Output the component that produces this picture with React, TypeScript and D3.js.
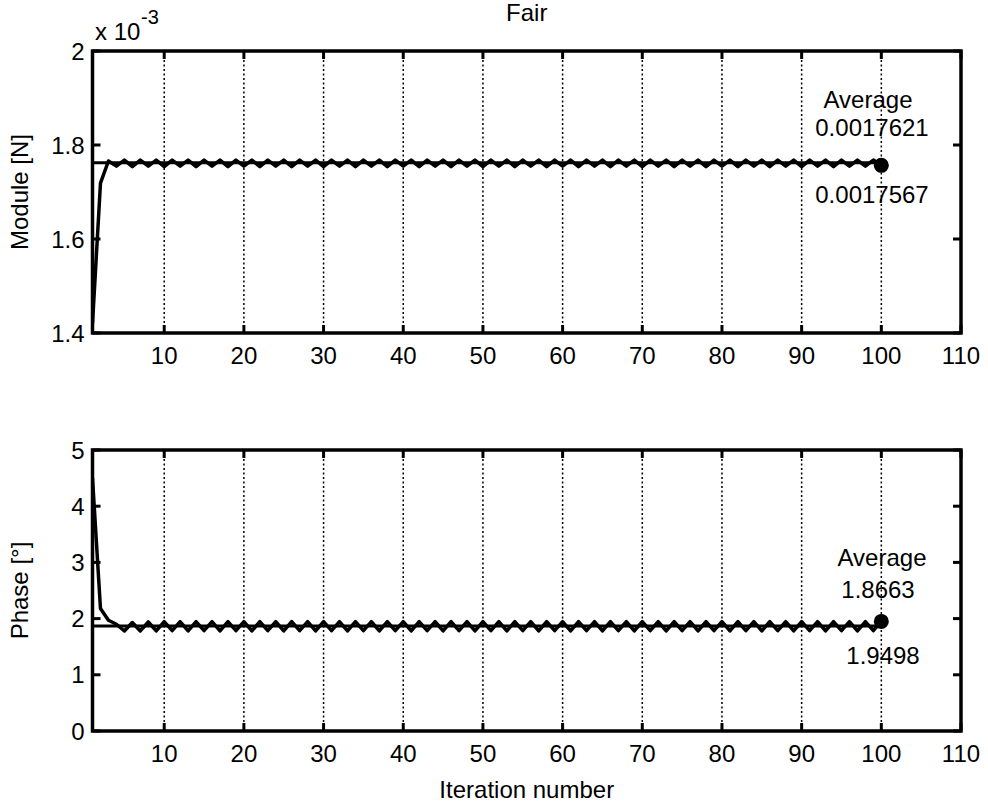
import React from "react";
import * as d3 from "d3";

const iterations: number[] = d3.range(1, 101);
// Module values, in units of 1e-3 N
const moduleVals: number[] = [
  1.420, 1.719, 1.766, 1.755, 1.768, 1.754, 1.768, 1.755, 1.768, 1.754,
  1.768, 1.755, 1.768, 1.754, 1.768, 1.755, 1.768, 1.754, 1.768, 1.755,
  1.768, 1.754, 1.768, 1.755, 1.768, 1.754, 1.768, 1.755, 1.768, 1.754,
  1.768, 1.755, 1.768, 1.754, 1.768, 1.755, 1.768, 1.754, 1.768, 1.755,
  1.768, 1.754, 1.768, 1.755, 1.768, 1.754, 1.768, 1.755, 1.768, 1.754,
  1.768, 1.755, 1.768, 1.754, 1.768, 1.755, 1.768, 1.754, 1.768, 1.755,
  1.768, 1.754, 1.768, 1.755, 1.768, 1.754, 1.768, 1.755, 1.768, 1.754,
  1.768, 1.755, 1.768, 1.754, 1.768, 1.755, 1.768, 1.754, 1.768, 1.755,
  1.768, 1.754, 1.768, 1.755, 1.768, 1.754, 1.768, 1.755, 1.768, 1.754,
  1.768, 1.755, 1.768, 1.754, 1.768, 1.755, 1.768, 1.755, 1.768, 1.7567,
];
// Phase values, degrees
const phaseVals: number[] = [
  4.50, 2.18, 1.97, 1.90, 1.78, 1.93, 1.78, 1.94, 1.78, 1.945,
  1.785, 1.945, 1.78, 1.945, 1.785, 1.945, 1.78, 1.945, 1.785, 1.945,
  1.78, 1.945, 1.785, 1.945, 1.78, 1.945, 1.785, 1.945, 1.78, 1.945,
  1.785, 1.945, 1.78, 1.945, 1.785, 1.945, 1.78, 1.945, 1.785, 1.945,
  1.78, 1.945, 1.785, 1.945, 1.78, 1.945, 1.785, 1.945, 1.78, 1.945,
  1.785, 1.945, 1.78, 1.945, 1.785, 1.945, 1.78, 1.945, 1.785, 1.945,
  1.78, 1.945, 1.785, 1.945, 1.78, 1.945, 1.785, 1.945, 1.78, 1.945,
  1.785, 1.945, 1.78, 1.945, 1.785, 1.945, 1.78, 1.945, 1.785, 1.945,
  1.78, 1.945, 1.785, 1.945, 1.78, 1.945, 1.785, 1.945, 1.78, 1.945,
  1.785, 1.945, 1.78, 1.945, 1.785, 1.945, 1.78, 1.945, 1.785, 1.9498,
];
const moduleAverage = 1.7621;
const phaseAverage = 1.8663;
const moduleTexts: string[] = ["Average", "0.0017621", "0.0017567"];
const phaseTexts: string[] = ["Average", "1.8663", "1.9498"];

const xTicks: number[] = [10, 20, 30, 40, 50, 60, 70, 80, 90, 100, 110];
const gridTicks: number[] = [10, 20, 30, 40, 50, 60, 70, 80, 90, 100];
const moduleTicks: number[] = [1.4, 1.6, 1.8, 2];
const moduleTickLabels: string[] = ["1.4", "1.6", "1.8", "2"];
const phaseTicks: number[] = [0, 1, 2, 3, 4, 5];
const phaseTickLabels: string[] = ["0", "1", "2", "3", "4", "5"];

const FONT = "'Liberation Sans', Arial, sans-serif";
const FS = 24;

const L = 92.5, R = 961;
const x = d3.scaleLinear().domain([1, 110]).range([L, R]);

type PanelProps = {
  y: d3.ScaleLinear<number, number>;
  vals: number[];
  avg: number;
  yTicks: number[];
  yLabels: string[];
  ylabel: string;
  texts: string[];
  textX: number[];
  textY: number[];
  clipId: string;
};

function Panel({ y, vals, avg, yTicks, yLabels, ylabel, texts, textX, textY, clipId }: PanelProps) {
  const [y0, y1] = y.range();
  const top = Math.min(y0, y1);
  const bottom = Math.max(y0, y1);
  const line = d3.line<number>().x((_, i) => x(iterations[i])).y((d) => y(d));
  const tl = 8;
  const lastX = x(iterations[iterations.length - 1]);
  const lastY = y(vals[vals.length - 1]);
  return (
    <g>
      <defs>
        <clipPath id={clipId}>
          <rect x={L} y={top} width={R - L} height={bottom - top} />
        </clipPath>
      </defs>
      {gridTicks.map((t) => (
        <line key={"g" + t} x1={x(t)} x2={x(t)} y1={top} y2={bottom} stroke="#000" strokeWidth={1.5} strokeDasharray="2 2.5" />
      ))}
      <g clipPath={`url(#${clipId})`}>
        <line x1={x(1)} x2={x(100)} y1={y(avg)} y2={y(avg)} stroke="#000" strokeWidth={3} />
        <path d={line(vals) || ""} fill="none" stroke="#000" strokeWidth={3.5} strokeLinejoin="round" />
      </g>
      <circle cx={lastX} cy={lastY} r={7.5} fill="#000" />
      {xTicks.map((t) => (
        <g key={"xt" + t}>
          <line x1={x(t)} x2={x(t)} y1={bottom} y2={bottom - tl} stroke="#000" strokeWidth={3} />
          <line x1={x(t)} x2={x(t)} y1={top} y2={top + tl} stroke="#000" strokeWidth={3} />
        </g>
      ))}
      {yTicks.map((t) => (
        <g key={"yt" + t}>
          <line x1={L} x2={L + tl} y1={y(t)} y2={y(t)} stroke="#000" strokeWidth={3} />
          <line x1={R} x2={R - tl} y1={y(t)} y2={y(t)} stroke="#000" strokeWidth={3} />
        </g>
      ))}
      <rect x={L} y={top} width={R - L} height={bottom - top} fill="none" stroke="#000" strokeWidth={3.5} />
      {xTicks.map((t) => (
        <text key={"xl" + t} x={x(t)} y={bottom + 31} textAnchor="middle" fontSize={FS} fontFamily={FONT}>{t}</text>
      ))}
      {yTicks.map((t, i) => (
        <text key={"yl" + t} x={L - 8} y={y(t) + 8.5} textAnchor="end" fontSize={FS} fontFamily={FONT}>{yLabels[i]}</text>
      ))}
      <text transform={`translate(28,${(top + bottom) / 2}) rotate(-90)`} textAnchor="middle" fontSize={FS} fontFamily={FONT}>{ylabel}</text>
      {texts.map((s, i) => (
        <text key={"a" + i} x={textX[i]} y={textY[i]} textAnchor="middle" fontSize={FS} fontFamily={FONT}>{s}</text>
      ))}
    </g>
  );
}

export default function App() {
  React.useEffect(() => {
    document.body.style.margin = "0";
  }, []);
  const yTop = d3.scaleLinear().domain([1.4, 2]).range([333, 51]);
  const yBot = d3.scaleLinear().domain([0, 5]).range([731, 450]);
  return (
    <svg width={988} height={810} style={{ position: "absolute", left: 0, top: 0, background: "#fff" }}>
      <rect x={0} y={0} width={988} height={810} fill="#fff" />
      <text x={(L + R) / 2} y={21} textAnchor="middle" fontSize={FS} fontFamily={FONT}>Fair</text>
      <text x={95} y={40} fontSize={FS} fontFamily={FONT}>x 10</text>
      <text x={141} y={24} fontSize={20} fontFamily={FONT}>-3</text>
      <Panel
        y={yTop}
        vals={moduleVals}
        avg={moduleAverage}
        yTicks={moduleTicks}
        yLabels={moduleTickLabels}
        ylabel="Module [N]"
        texts={moduleTexts}
        textX={[868, 872, 872]}
        textY={[108, 136, 203]}
        clipId="clipTop"
      />
      <Panel
        y={yBot}
        vals={phaseVals}
        avg={phaseAverage}
        yTicks={phaseTicks}
        yLabels={phaseTickLabels}
        ylabel="Phase [°]"
        texts={phaseTexts}
        textX={[882, 878, 883]}
        textY={[566, 598, 664]}
        clipId="clipBot"
      />
      <text x={(L + R) / 2} y={798} textAnchor="middle" fontSize={FS} fontFamily={FONT}>Iteration number</text>
    </svg>
  );
}
